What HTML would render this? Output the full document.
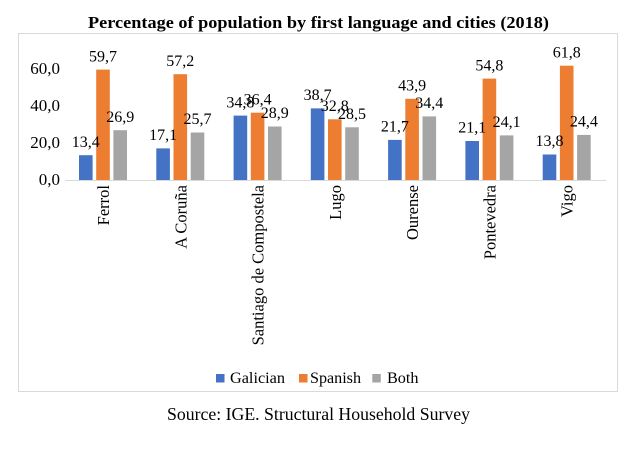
<!DOCTYPE html>
<html>
<head>
<meta charset="utf-8">
<style>
  html, body { margin: 0; padding: 0; background: #ffffff; }
  svg { display: block; }
  text { font-family: "Liberation Serif", serif; fill: #000; }
</style>
</head>
<body>
<svg width="643" height="454" viewBox="0 0 643 454" xmlns="http://www.w3.org/2000/svg">
  <rect x="0" y="0" width="643" height="454" fill="#ffffff"/>
  <!-- Title -->
  <text x="88" y="28" font-size="17" font-weight="bold" textLength="461" lengthAdjust="spacingAndGlyphs">Percentage of population by first language and cities (2018)</text>
  <!-- Chart border -->
  <rect x="18.5" y="33.5" width="599" height="358" fill="none" stroke="#d9d9d9" stroke-width="1"/>

  <!-- Y axis labels -->
  <g font-size="17" text-anchor="end">
    <text x="60" y="74">60,0</text>
    <text x="60" y="111">40,0</text>
    <text x="60" y="148">20,0</text>
    <text x="60" y="185">0,0</text>
  </g>

  <!-- Bars -->
  <g>
    <rect x="79.0" y="155.2" width="13.6" height="24.8" fill="#4472C4"/>
    <rect x="96.2" y="69.6" width="13.6" height="110.4" fill="#ED7D31"/>
    <rect x="113.4" y="130.2" width="13.6" height="49.8" fill="#A5A5A5"/>
    <rect x="156.3" y="148.4" width="13.6" height="31.6" fill="#4472C4"/>
    <rect x="173.5" y="74.2" width="13.6" height="105.8" fill="#ED7D31"/>
    <rect x="190.7" y="132.5" width="13.6" height="47.5" fill="#A5A5A5"/>
    <rect x="233.6" y="115.6" width="13.6" height="64.4" fill="#4472C4"/>
    <rect x="250.8" y="112.7" width="13.6" height="67.3" fill="#ED7D31"/>
    <rect x="268.0" y="126.5" width="13.6" height="53.5" fill="#A5A5A5"/>
    <rect x="310.8" y="108.4" width="13.6" height="71.6" fill="#4472C4"/>
    <rect x="328.0" y="119.3" width="13.6" height="60.7" fill="#ED7D31"/>
    <rect x="345.2" y="127.3" width="13.6" height="52.7" fill="#A5A5A5"/>
    <rect x="388.1" y="139.9" width="13.6" height="40.1" fill="#4472C4"/>
    <rect x="405.3" y="98.8" width="13.6" height="81.2" fill="#ED7D31"/>
    <rect x="422.5" y="116.4" width="13.6" height="63.6" fill="#A5A5A5"/>
    <rect x="465.4" y="141.0" width="13.6" height="39.0" fill="#4472C4"/>
    <rect x="482.6" y="78.6" width="13.6" height="101.4" fill="#ED7D31"/>
    <rect x="499.8" y="135.4" width="13.6" height="44.6" fill="#A5A5A5"/>
    <rect x="542.7" y="154.5" width="13.6" height="25.5" fill="#4472C4"/>
    <rect x="559.9" y="65.7" width="13.6" height="114.3" fill="#ED7D31"/>
    <rect x="577.1" y="134.9" width="13.6" height="45.1" fill="#A5A5A5"/>
  </g>

  <!-- Axis line -->
  <line x1="65" y1="180.5" x2="606" y2="180.5" stroke="#d9d9d9" stroke-width="1"/>

  <!-- Data labels -->
  <g font-size="16" text-anchor="middle">
    <text x="85.8" y="146.9">13,4</text>
    <text x="103.0" y="61.3">59,7</text>
    <text x="120.2" y="121.9">26,9</text>

    <text x="163.1" y="140.1">17,1</text>
    <text x="180.3" y="65.9">57,2</text>
    <text x="197.5" y="124.2">25,7</text>

    <text x="240.4" y="107.3">34,8</text>
    <text x="257.6" y="104.4">36,4</text>
    <text x="274.8" y="118.2">28,9</text>

    <text x="317.6" y="100.1">38,7</text>
    <text x="334.8" y="111.0">32,8</text>
    <text x="352.0" y="119.0">28,5</text>

    <text x="394.9" y="131.6">21,7</text>
    <text x="412.1" y="90.5">43,9</text>
    <text x="429.3" y="108.1">34,4</text>

    <text x="472.2" y="132.7">21,1</text>
    <text x="489.4" y="70.3">54,8</text>
    <text x="506.6" y="127.1">24,1</text>

    <text x="549.5" y="146.2">13,8</text>
    <text x="566.7" y="57.4">61,8</text>
    <text x="583.9" y="126.6">24,4</text>
  </g>

  <!-- Category labels -->
  <g font-size="16.5" text-anchor="end">
    <text transform="translate(109,185) rotate(-90)">Ferrol</text>
    <text transform="translate(186.3,185) rotate(-90)">A Coruña</text>
    <text transform="translate(263.6,185) rotate(-90)">Santiago de Compostela</text>
    <text transform="translate(340.8,185) rotate(-90)">Lugo</text>
    <text transform="translate(418.1,185) rotate(-90)">Ourense</text>
    <text transform="translate(495.4,185) rotate(-90)">Pontevedra</text>
    <text transform="translate(572.7,185) rotate(-90)">Vigo</text>
  </g>

  <!-- Legend -->
  <rect x="216" y="374" width="8.5" height="8.5" fill="#4472C4"/>
  <text x="230" y="383" font-size="16" textLength="55" lengthAdjust="spacingAndGlyphs">Galician</text>
  <rect x="299" y="374" width="8.5" height="8.5" fill="#ED7D31"/>
  <text x="310" y="383" font-size="16" textLength="51" lengthAdjust="spacingAndGlyphs">Spanish</text>
  <rect x="372.3" y="374" width="8.5" height="8.5" fill="#A5A5A5"/>
  <text x="387" y="383" font-size="16" textLength="31.5" lengthAdjust="spacingAndGlyphs">Both</text>

  <!-- Source -->
  <text x="167" y="420" font-size="18" textLength="303" lengthAdjust="spacingAndGlyphs">Source: IGE. Structural Household Survey</text>
</svg>
</body>
</html>
